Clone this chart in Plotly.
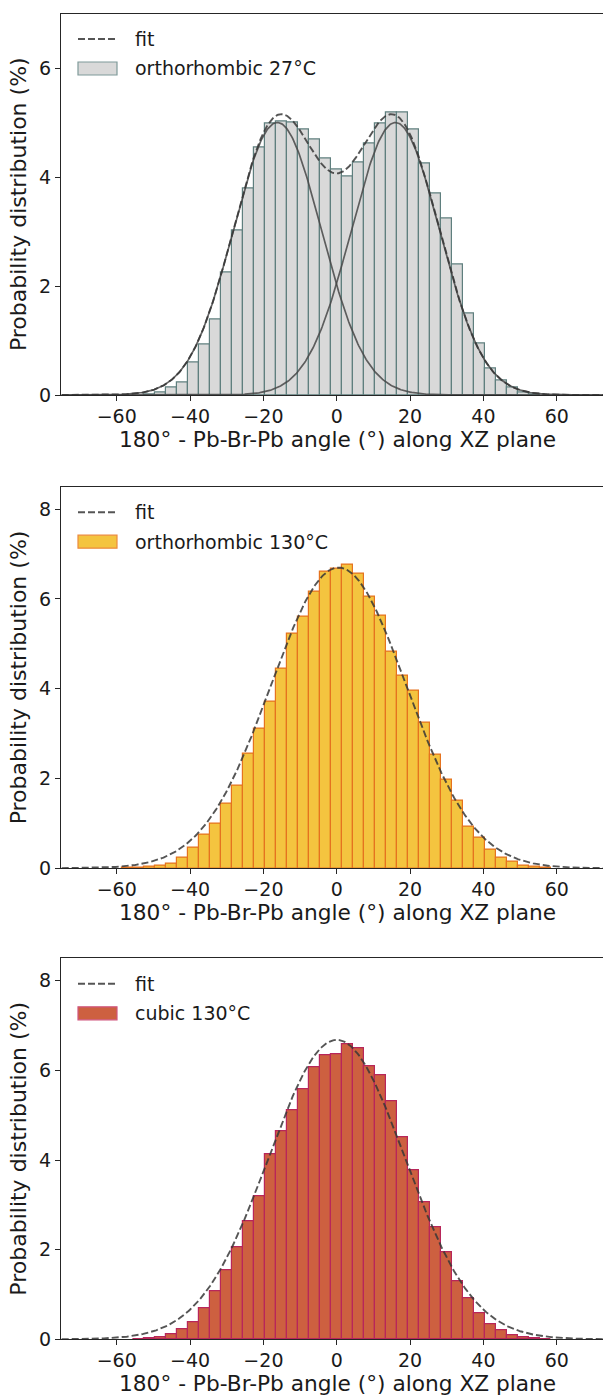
import numpy as np
import plotly.graph_objects as go

# ---------------- data ----------------
centers_27 = [-51, -48, -45, -42, -39, -36, -33, -30, -27, -24, -21, -18, -15, -12, -9, -6, -3, 0,
              3, 6, 9, 12, 15, 18, 21, 24, 27, 30, 33, 36, 39, 42, 45, 48, 51, 54]
pct_27 = [0.01, 0.05, 0.13, 0.23, 0.59, 0.92, 1.39, 2.24, 3.01, 3.79, 4.55, 4.98, 5.02, 5.00, 4.87, 4.69, 4.34, 4.14,
          4.01, 4.26, 4.61, 4.98, 5.19, 5.18, 4.87, 4.25, 3.69, 3.23, 2.39, 1.50, 0.95, 0.48, 0.26, 0.14, 0.04, 0.01]

centers_130o = [-57, -54, -51, -48, -45, -42, -39, -36, -33, -30, -27, -24, -21, -18, -15, -12, -9, -6, -3, 0,
                3, 6, 9, 12, 15, 18, 21, 24, 27, 30, 33, 36, 39, 42, 45, 48, 51, 54, 57]
pct_130o = [0.01, 0.02, 0.03, 0.05, 0.10, 0.24, 0.45, 0.74, 0.99, 1.43, 1.85, 2.56, 3.10, 3.71, 4.45, 5.23, 5.60, 6.16, 6.61, 6.67,
            6.76, 6.56, 6.05, 5.63, 4.82, 4.29, 3.96, 3.25, 2.54, 1.97, 1.50, 0.93, 0.68, 0.42, 0.24, 0.14, 0.06, 0.03, 0.01]

centers_130c = [-54, -51, -48, -45, -42, -39, -36, -33, -30, -27, -24, -21, -18, -15, -12, -9, -6, -3, 0,
                3, 6, 9, 12, 15, 18, 21, 24, 27, 30, 33, 36, 39, 42, 45, 48, 51, 54, 57]
pct_130c = [0.01, 0.02, 0.04, 0.11, 0.23, 0.39, 0.69, 1.08, 1.55, 2.05, 2.64, 3.18, 4.13, 4.63, 5.10, 5.58, 6.06, 6.34, 6.36,
            6.59, 6.49, 6.10, 5.90, 5.30, 4.51, 3.76, 3.06, 2.49, 1.95, 1.29, 0.91, 0.59, 0.34, 0.21, 0.10, 0.04, 0.02, 0.01]

# Gaussian fit parameters: (amplitude %, mean deg, sigma deg)
fit_27_a = (5.0, -16.2, 12.0)
fit_27_b = (5.0, 16.0, 12.0)
fit_130o = (6.70, 0.5, 18.5)
fit_130c = (6.68, 0.0, 18.6)

labels = ["orthorhombic 27°C", "orthorhombic 130°C", "cubic 130°C"]
x_title = "180° - Pb-Br-Pb angle (°) along XZ plane"
y_title = "Probability distribution (%)"
x_ticks = [-60, -40, -20, 0, 20, 40, 60]
y_ticks_list = [[0, 2, 4, 6], [0, 2, 4, 6, 8], [0, 2, 4, 6, 8]]
y_max_list = [7.0, 8.5, 8.5]

# ---------------- styling / layout ----------------
W, H = 603, 1396
FONT = "DejaVu Sans"
TXT = "#1a1a1a"
AX = "#262626"
x_left_px = 61
x_range = [-75.2, 72.6]
axes_center_px = 337.5          # centre of the (partly cropped) axes box
panels_px = [(13.5, 395.0), (486.7, 868.3), (958.3, 1339.3)]  # (top, bottom) in px
xtitle_offset = 44.0            # px below the bottom spine
fills = ["#d9d9d9", "#f4c43f", "#cd6040"]
edges = ["#5f7f7e", "#e5731f", "#b8265a"]
legend_edges = ["#7f9a99", "#ec8a3c", "#d0557d"]

xg = np.linspace(-75, 75, 601)


def gauss(p):
    a, m, s = p
    return a * np.exp(-(xg - m) ** 2 / (2 * s ** 2))


fig = go.Figure()
layout = dict(width=W, height=H, margin=dict(l=0, r=0, t=0, b=0),
              paper_bgcolor="white", plot_bgcolor="white", showlegend=False,
              font=dict(family=FONT, color=TXT))
shapes = []
annotations = []

hist = [(centers_27, pct_27), (centers_130o, pct_130o), (centers_130c, pct_130c)]
for i in range(3):
    n = "" if i == 0 else str(i + 1)
    xa, ya = "x" + n, "y" + n
    top, bot = panels_px[i]
    ph = bot - top
    dom_y = [1 - bot / H, 1 - top / H]
    layout["xaxis" + n] = dict(domain=[x_left_px / W, 1], range=x_range, anchor=ya,
                               showline=True, linecolor=AX, linewidth=1.1, mirror=True,
                               ticks="outside", ticklen=5, tickwidth=1.1, tickcolor=AX,
                               tickvals=x_ticks, showgrid=False, zeroline=False,
                               ticklabelstandoff=-1,
                               tickfont=dict(size=19, family=FONT, color=TXT), automargin=False)
    layout["yaxis" + n] = dict(domain=dom_y, range=[0, y_max_list[i]], anchor=xa,
                               showline=True, linecolor=AX, linewidth=1.1, mirror=False,
                               ticks="outside", ticklen=5, tickwidth=1.1, tickcolor=AX,
                               tickvals=y_ticks_list[i], showgrid=False, zeroline=False,
                               tickfont=dict(size=19, family=FONT, color=TXT), automargin=False,
                               title=dict(text=y_title,
                                          font=dict(size=22, family=FONT, color=TXT), standoff=6))
    cx, cy = hist[i]
    fig.add_trace(go.Bar(x=cx, y=cy, width=3, xaxis=xa, yaxis=ya,
                         marker=dict(color=fills[i], line=dict(color=edges[i], width=1.2)),
                         name=labels[i]))
    if i == 0:
        for p in (fit_27_a, fit_27_b):
            fig.add_trace(go.Scatter(x=xg, y=gauss(p), mode="lines", xaxis=xa, yaxis=ya,
                                     line=dict(color="rgba(70,70,70,0.85)", width=1.7)))
        total = gauss(fit_27_a) + gauss(fit_27_b)
    elif i == 1:
        total = gauss(fit_130o)
    else:
        total = gauss(fit_130c)
    fig.add_trace(go.Scatter(x=xg, y=total, mode="lines", xaxis=xa, yaxis=ya, name="fit",
                             line=dict(color="rgba(55,55,55,0.85)", width=1.9, dash="7px,3px")))

    # x-axis title centred on the full (cropped) axes box
    annotations.append(dict(xref="paper", yref="paper", x=axes_center_px / W,
                            y=1 - (bot + xtitle_offset) / H, xanchor="center", yanchor="middle",
                            text=x_title, showarrow=False,
                            font=dict(size=21.7, family=FONT, color=TXT)))

    # legend drawn manually (matplotlib style)
    pw = W - x_left_px

    def fx(px):
        return (px - x_left_px) / pw

    def fy(off):
        return 1 - off / ph

    xref, yref = xa + " domain", ya + " domain"
    shapes.append(dict(type="line", xref=xref, yref=yref, x0=fx(78), x1=fx(117), y0=fy(25.5), y1=fy(25.5),
                       line=dict(color="rgba(55,55,55,0.85)", width=1.9, dash="7px,3px")))
    shapes.append(dict(type="rect", xref=xref, yref=yref, x0=fx(78), x1=fx(117), y0=fy(61.5), y1=fy(48.5),
                       fillcolor=fills[i], line=dict(color=legend_edges[i], width=1.2)))
    annotations.append(dict(xref=xref, yref=yref, x=fx(133), y=fy(25.5), xanchor="left", yanchor="middle",
                            text="fit", showarrow=False, font=dict(size=19, family=FONT, color=TXT)))
    annotations.append(dict(xref=xref, yref=yref, x=fx(133), y=fy(55), xanchor="left", yanchor="middle",
                            text=labels[i], showarrow=False, font=dict(size=19, family=FONT, color=TXT)))

layout["shapes"] = shapes
layout["annotations"] = annotations
layout["bargap"] = 0
fig.update_layout(**layout)
fig.write_html("out.html")
